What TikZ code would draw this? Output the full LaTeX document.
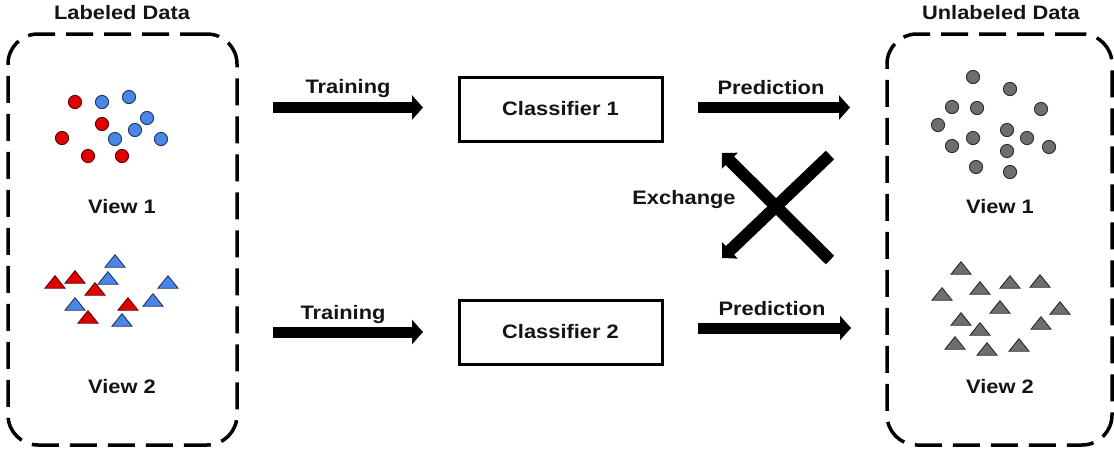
\documentclass[tikz,border=0pt]{standalone}
\usepackage{fontspec}
\setmainfont{Liberation Sans}[FakeStretch=1.12]
\usetikzlibrary{arrows.meta}
\definecolor{redf}{HTML}{E00000}
\definecolor{redd}{HTML}{5A0000}
\definecolor{bluef}{HTML}{4A86E8}
\definecolor{blued}{HTML}{1C3558}
\definecolor{grayf}{HTML}{6E6E6E}
\definecolor{grayd}{HTML}{2A2A2A}
\tikzset{
  lbl/.style={font=\fontsize{19.5}{22}\selectfont\bfseries, anchor=base, inner sep=0pt, text=black!92},
  dbox/.style={draw, line width=3.5pt, dash pattern=on 27pt off 11pt, rounded corners=30pt, inner sep=0pt},
  cbox/.style={draw, line width=3pt, minimum width=203pt, minimum height=64pt, inner sep=0pt,
               font=\fontsize{19.5}{22}\selectfont\bfseries, text=black!92},
  barrow/.style={line width=11pt, -{Triangle[length=11pt,width=24pt]}},
  xarrow/.style={line width=12pt, -{Triangle[length=11pt,width=22pt]}},
  redc/.style={fill=redf, draw=redd, line width=0.9pt},
  bluec/.style={fill=bluef, draw=blued, line width=0.9pt},
  grayc/.style={fill=grayf, draw=grayd, line width=0.9pt},
  tri/.pic={\path[pic actions] (-10,6.2) -- (10,6.2) -- (0,-6.3) -- cycle;}
}
\begin{document}
\begin{tikzpicture}[x=1pt,y=-1pt]
\useasboundingbox (0,0) rectangle (1114,451);

% dashed data boxes
\node[dbox, minimum width=229pt, minimum height=411pt] (lbox) at (122.5,239.5) {};
\node[dbox, minimum width=225pt, minimum height=411pt] (ubox) at (999.5,239.5) {};
\node[lbl] (ltitle) at (122,19) {Labeled Data};
\node[lbl] (utitle) at (1001,19) {Unlabeled Data};

% view labels
\node[lbl] (lv1) at (122,213) {View 1};
\node[lbl] (lv2) at (122,393) {View 2};
\node[lbl] (uv1) at (1000,213) {View 1};
\node[lbl] (uv2) at (1000,393) {View 2};

% classifiers
\node[cbox] (c1) at (560.5,109) {Classifier 1};
\node[cbox] (c2) at (560.5,332) {Classifier 2};

% training / prediction arrows
\coordinate (t1s) at (273,107.5); \coordinate (t1e) at (423,107.5);
\coordinate (t2s) at (273,332);   \coordinate (t2e) at (423,332);
\coordinate (p1s) at (698,107.5); \coordinate (p1e) at (850,107.5);
\coordinate (p2s) at (698,328);   \coordinate (p2e) at (851,328);
\draw[barrow] (t1s) -- (t1e);
\draw[barrow] (t2s) -- (t2e);
\draw[barrow] (p1s) -- (p1e);
\draw[barrow] (p2s) -- (p2e);
\node[lbl] (tr1) at (348,93) {Training};
\node[lbl] (tr2) at (343,319) {Training};
\node[lbl] (pr1) at (771,94) {Prediction};
\node[lbl] (pr2) at (772,315) {Prediction};

% exchange cross
\coordinate (xa1) at (830,260); \coordinate (xa2) at (722,153);
\coordinate (xb1) at (830,155); \coordinate (xb2) at (722,258);
\draw[xarrow] (xa1) -- (xa2);
\draw[xarrow] (xb1) -- (xb2);
\node[lbl] (ex) at (684,204) {Exchange};

% labeled view 1 circles
\foreach \p in {(75,102),(102,124),(62,138),(88,156),(122,156)}
  \draw[redc] \p circle[radius=6.6pt];
\foreach \p in {(102,102),(129,97),(147,118),(135,130),(115,139),(161,139)}
  \draw[bluec] \p circle[radius=6.6pt];

% labeled view 2 triangles
\foreach \p in {(115,261),(108,278),(168,282),(75,304),(153,300),(122,320)}
  \path \p pic[bluec] {tri};
\foreach \p in {(55,282),(75,277),(95,289),(128,304),(88,317)}
  \path \p pic[redc] {tri};

% unlabeled view 1 circles
\foreach \p in {(973,77),(1010,89),(952,107),(977,108),(1041,109),(938,125),(1007,130),
                (973,138),(1027,138),(952,146),(1007,151),(1049,147),(976,167),(1010,172)}
  \draw[grayc] \p circle[radius=6.6pt];

% unlabeled view 2 triangles
\foreach \p in {(961,268),(942,294),(980,288),(1010,282),(1040,281),(1000,307),(1060,308),
                (961,319),(980,329),(1041,323),(955,343),(987,349),(1019,345)}
  \path \p pic[grayc] {tri};
\end{tikzpicture}
\end{document}
